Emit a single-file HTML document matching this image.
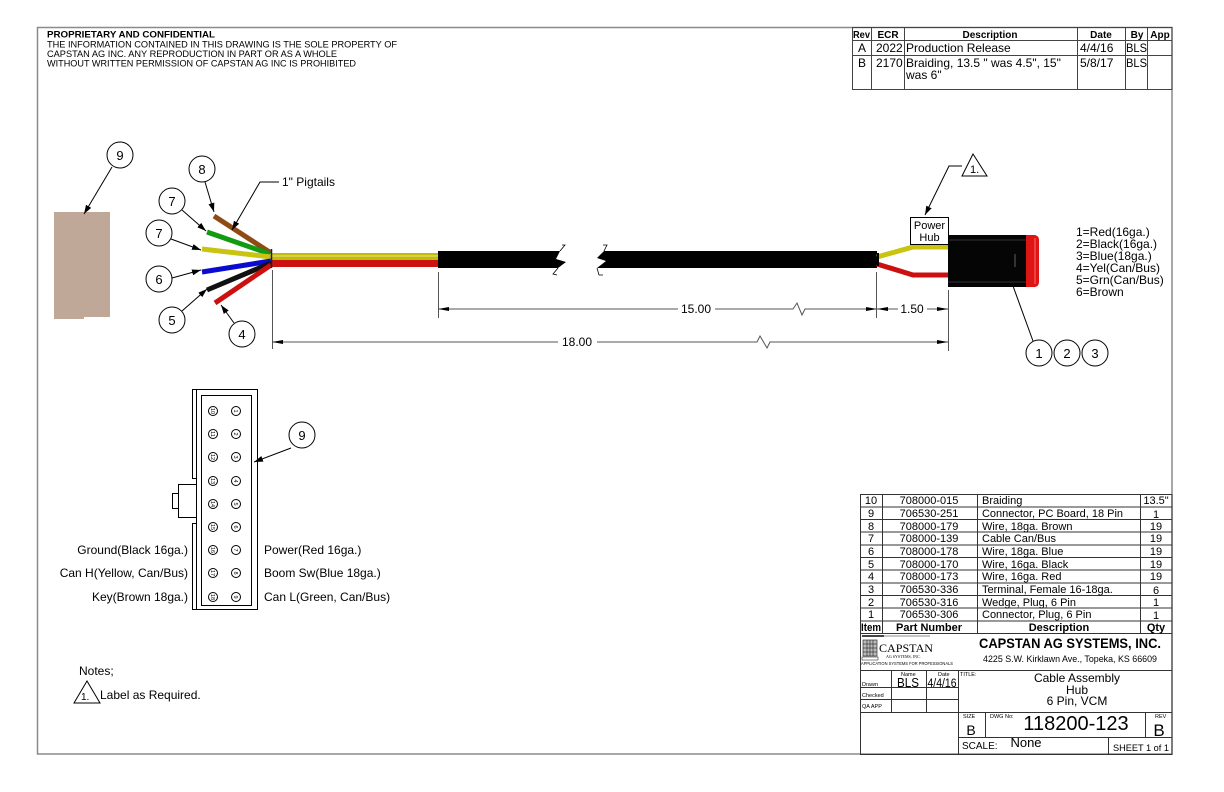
<!DOCTYPE html>
<html><head><meta charset="utf-8"><style>
html,body{margin:0;padding:0;background:#fff;}
svg{display:block;}
text{font-family:"Liberation Sans",Arial,sans-serif;fill:#000;}
</style></head><body>
<svg width="1224" height="792" viewBox="0 0 1224 792" xmlns="http://www.w3.org/2000/svg">
<defs>
<marker id="a" markerUnits="userSpaceOnUse" markerWidth="9" markerHeight="6" refX="9" refY="3" orient="auto"><path d="M0,0 L9,3 L0,6 z" fill="#000"/></marker>
</defs>
<rect width="1224" height="792" fill="#fff"/>
<!-- frame -->
<rect x="37.5" y="27.5" width="1134.5" height="726.5" fill="none" stroke="#8a8a8a" stroke-width="1.5"/>

<!-- header -->
<text x="47" y="37.5" font-size="9.5" font-weight="bold" textLength="168" lengthAdjust="spacingAndGlyphs">PROPRIETARY AND CONFIDENTIAL</text>
<text x="47" y="47.5" font-size="9.5" textLength="350" lengthAdjust="spacingAndGlyphs">THE INFORMATION CONTAINED IN THIS DRAWING IS THE SOLE PROPERTY OF</text>
<text x="47" y="57" font-size="9.5" textLength="290" lengthAdjust="spacingAndGlyphs">CAPSTAN AG INC. ANY REPRODUCTION IN PART OR AS A WHOLE</text>
<text x="47" y="66.5" font-size="9.5" textLength="309" lengthAdjust="spacingAndGlyphs">WITHOUT WRITTEN PERMISSION OF CAPSTAN AG INC IS PROHIBITED</text>

<!-- revision table -->
<g stroke="#444" stroke-width="1" fill="none">
<rect x="852.5" y="27.5" width="319.5" height="62"/>
<line x1="852" y1="40.5" x2="1172" y2="40.5"/>
<line x1="852" y1="55.5" x2="1172" y2="55.5"/>
<line x1="871.5" y1="27" x2="871.5" y2="89"/>
<line x1="904.5" y1="27" x2="904.5" y2="89"/>
<line x1="1077.5" y1="27" x2="1077.5" y2="89"/>
<line x1="1125.5" y1="27" x2="1125.5" y2="89"/>
<line x1="1147.5" y1="27" x2="1147.5" y2="89"/>
</g>
<g font-size="10" font-weight="bold">
<text x="853" y="38" textLength="17" lengthAdjust="spacingAndGlyphs">Rev</text>
<text x="888" y="38" text-anchor="middle">ECR</text>
<text x="990" y="38" text-anchor="middle">Description</text>
<text x="1101" y="38" text-anchor="middle">Date</text>
<text x="1137" y="38" text-anchor="middle">By</text>
<text x="1160" y="38" text-anchor="middle">App</text>
</g>
<g font-size="12">
<text x="862" y="52" text-anchor="middle">A</text>
<text x="876" y="52">2022</text>
<text x="906" y="52">Production Release</text>
<text x="1080" y="52">4/4/16</text>
<text x="1126" y="52" textLength="21" lengthAdjust="spacingAndGlyphs">BLS</text>
<text x="862" y="67" text-anchor="middle">B</text>
<text x="876" y="67">2170</text>
<text x="906" y="67">Braiding, 13.5 " was 4.5", 15"</text>
<text x="906" y="79">was 6"</text>
<text x="1080" y="67">5/8/17</text>
<text x="1126" y="67" textLength="21" lengthAdjust="spacingAndGlyphs">BLS</text>
</g>

<!-- Part 9 tan connector -->
<rect x="54" y="212" width="56" height="105" fill="#bfa897"/>
<rect x="54" y="312" width="30" height="7" fill="#bfa897"/>
<circle cx="120" cy="155" r="13" fill="#fff" stroke="#000"/>
<text x="120" y="160" font-size="13" text-anchor="middle">9</text>
<line x1="112" y1="167" x2="84" y2="214" stroke="#000" marker-end="url(#a)"/>

<!-- pigtail wires -->
<g stroke-width="5" stroke-linecap="butt">
<line x1="214" y1="216" x2="271" y2="253" stroke="#8e4b14"/>
<line x1="207" y1="232" x2="270" y2="254" stroke="#129a12"/>
<line x1="202" y1="249" x2="271" y2="257" stroke="#c8c410"/>
<line x1="202" y1="272" x2="271" y2="261" stroke="#0a0ad0"/>
<line x1="207" y1="290" x2="271" y2="263" stroke="#111"/>
<line x1="215" y1="303" x2="271" y2="265" stroke="#cc1010"/>
</g>
<!-- main braid -->
<rect x="271" y="253" width="167" height="7" fill="#c2bb08"/>
<rect x="271" y="255" width="167" height="2" fill="#d6d24a"/>
<rect x="271" y="260" width="167" height="7" fill="#cc1111"/>
<line x1="271.5" y1="249" x2="271.5" y2="268" stroke="#222" stroke-width="1.5"/>

<!-- jacket -->
<path d="M438,251 L560,251 L556,259 L566,262 L558,268 L438,268 Z" fill="#000"/>
<path d="M604,251 L877,251 L877,268 L597,268 L606,261 L597,258 Z" fill="#000"/>
<g stroke="#000" stroke-width="0.8" fill="none">
<path d="M560,251 L565,245 L562,245"/>
<path d="M558,268 L553,274 L557,275"/>
<path d="M604,251 L607,245 L603,245"/>
<path d="M597,268 L599,275 L603,275"/>
</g>

<!-- right wires -->
<polyline points="877,257 913,247 948,247" fill="none" stroke="#c8c410" stroke-width="5"/>
<polyline points="877,264 913,275 948,275" fill="none" stroke="#cc1010" stroke-width="5"/>
<rect x="877" y="253" width="2" height="13" fill="#000"/>

<!-- connector -->
<rect x="948" y="235" width="79" height="52" fill="#050505"/>
<line x1="948" y1="240" x2="1027" y2="240" stroke="#333" stroke-width="1"/>
<line x1="948" y1="282" x2="1027" y2="282" stroke="#333" stroke-width="1"/>
<rect x="1014" y="254" width="2" height="13" fill="#333"/>
<path d="M1026,235 L1035,235 Q1039,236 1039,240 L1039,282 Q1039,286 1035,287 L1026,287 Z" fill="#dd1515"/>
<rect x="1034" y="238" width="2" height="46" fill="#f04040"/>

<!-- Power Hub label -->
<rect x="910.5" y="217.5" width="38" height="27" fill="#fff" stroke="#000"/>
<text x="929.5" y="229" font-size="11" text-anchor="middle">Power</text>
<text x="929.5" y="241" font-size="11" text-anchor="middle">Hub</text>
<polygon points="973,154 962,176 987,176" fill="#fff" stroke="#000"/>
<text x="970" y="173" font-size="11">1.</text>
<polyline points="962,166 949,166 925,215" fill="none" stroke="#000" marker-end="url(#a)"/>

<!-- wire list -->
<g font-size="12">
<text x="1076" y="236">1=Red(16ga.)</text>
<text x="1076" y="248">2=Black(16ga.)</text>
<text x="1076" y="260">3=Blue(18ga.)</text>
<text x="1076" y="272">4=Yel(Can/Bus)</text>
<text x="1076" y="284">5=Grn(Can/Bus)</text>
<text x="1076" y="296">6=Brown</text>
</g>

<!-- balloons 1 2 3 -->
<line x1="1033" y1="341" x2="1013" y2="286" stroke="#000"/>
<g fill="#fff" stroke="#000">
<circle cx="1039" cy="353" r="13"/>
<circle cx="1067" cy="353" r="13"/>
<circle cx="1095" cy="353" r="13"/>
</g>
<g font-size="13" text-anchor="middle">
<text x="1039" y="358">1</text>
<text x="1067" y="358">2</text>
<text x="1095" y="358">3</text>
</g>

<!-- pigtail balloons -->
<g fill="#fff" stroke="#000">
<circle cx="202" cy="169" r="13"/>
<circle cx="172" cy="201" r="13"/>
<circle cx="159" cy="233" r="13"/>
<circle cx="159" cy="279" r="13"/>
<circle cx="172" cy="320" r="13"/>
<circle cx="242" cy="334" r="13"/>
</g>
<g font-size="13" text-anchor="middle">
<text x="202" y="174">8</text>
<text x="172" y="206">7</text>
<text x="159" y="238">7</text>
<text x="159" y="284">6</text>
<text x="172" y="325">5</text>
<text x="242" y="339">4</text>
</g>
<g stroke="#000" fill="none">
<line x1="205" y1="182" x2="214" y2="212" marker-end="url(#a)"/>
<line x1="182" y1="210" x2="206" y2="231" marker-end="url(#a)"/>
<line x1="171" y1="239" x2="201" y2="250" marker-end="url(#a)"/>
<line x1="172" y1="278" x2="201" y2="270" marker-end="url(#a)"/>
<line x1="182" y1="311" x2="207" y2="289" marker-end="url(#a)"/>
<line x1="234" y1="323" x2="221" y2="305" marker-end="url(#a)"/>
<polyline points="279,182 260,182 232,230" marker-end="url(#a)"/>
</g>
<text x="282" y="186" font-size="12">1" Pigtails</text>

<!-- dimensions -->
<g stroke="#555" stroke-width="1" fill="none">
<line x1="438.5" y1="272" x2="438.5" y2="318"/>
<line x1="876.5" y1="272" x2="876.5" y2="318"/>
<line x1="272.5" y1="270" x2="272.5" y2="349"/>
<line x1="948.5" y1="290" x2="948.5" y2="351"/>
<polyline points="438,309 678,309"/>
<polyline points="715,309 793,309 797,303 802,315 805,309 877,309"/>
<polyline points="877,309 898,309"/>
<polyline points="927,309 948,309"/>
<line x1="861" y1="309" x2="877" y2="309"/>
<polyline points="272,342 558,342"/>
<polyline points="597,342 757,342 760,336 767,348 770,342 948,342"/>
</g>
<g fill="#000">
<path d="M438,309 L449,307 L449,311 Z"/>
<path d="M877,309 L866,307 L866,311 Z"/>
<path d="M877,309 L888,307 L888,311 Z"/>
<path d="M948,309 L937,307 L937,311 Z"/>
<path d="M272,342 L283,340 L283,344 Z"/>
<path d="M948,342 L937,340 L937,344 Z"/>
</g>
<g font-size="12" text-anchor="middle">
<text x="696" y="313">15.00</text>
<text x="912" y="313">1.50</text>
<text x="577" y="346">18.00</text>
</g>

<!-- 18 pin connector -->
<g stroke="#000" stroke-width="1" fill="none">
<line x1="192.5" y1="389" x2="192.5" y2="478"/>
<line x1="192.5" y1="523" x2="192.5" y2="610"/>
<line x1="192" y1="478.5" x2="196" y2="478.5"/>
<line x1="192" y1="523.5" x2="196" y2="523.5"/>
<line x1="192" y1="389.5" x2="258" y2="389.5"/>
<line x1="192" y1="609.5" x2="258" y2="609.5"/>
<line x1="257.5" y1="389" x2="257.5" y2="610"/>
<line x1="196.5" y1="389" x2="196.5" y2="610"/>
<rect x="201.5" y="395.5" width="50" height="210"/>
<rect x="178.5" y="484.5" width="18" height="33"/>
<rect x="172.5" y="493.5" width="6" height="15"/>
</g>
<g stroke="#000" stroke-width="1" fill="#fff">
<circle cx="213" cy="411" r="4.5"/><circle cx="236" cy="411" r="4.5"/>
<circle cx="213" cy="434" r="4.5"/><circle cx="236" cy="434" r="4.5"/>
<circle cx="213" cy="457" r="4.5"/><circle cx="236" cy="457" r="4.5"/>
<circle cx="213" cy="481" r="4.5"/><circle cx="236" cy="481" r="4.5"/>
<circle cx="213" cy="504" r="4.5"/><circle cx="236" cy="504" r="4.5"/>
<circle cx="213" cy="527" r="4.5"/><circle cx="236" cy="527" r="4.5"/>
<circle cx="213" cy="550" r="4.5"/><circle cx="236" cy="550" r="4.5"/>
<circle cx="213" cy="573" r="4.5"/><circle cx="236" cy="573" r="4.5"/>
<circle cx="213" cy="597" r="4.5"/><circle cx="236" cy="597" r="4.5"/>
</g>
<g font-size="5.5" text-anchor="middle">
<text transform="translate(211,411) rotate(90)">10</text><text transform="translate(234,411) rotate(90)">1</text>
<text transform="translate(211,434) rotate(90)">11</text><text transform="translate(234,434) rotate(90)">2</text>
<text transform="translate(211,457) rotate(90)">12</text><text transform="translate(234,457) rotate(90)">3</text>
<text transform="translate(211,481) rotate(90)">13</text><text transform="translate(234,481) rotate(90)">4</text>
<text transform="translate(211,504) rotate(90)">14</text><text transform="translate(234,504) rotate(90)">5</text>
<text transform="translate(211,527) rotate(90)">15</text><text transform="translate(234,527) rotate(90)">6</text>
<text transform="translate(211,550) rotate(90)">16</text><text transform="translate(234,550) rotate(90)">7</text>
<text transform="translate(211,573) rotate(90)">17</text><text transform="translate(234,573) rotate(90)">8</text>
<text transform="translate(211,597) rotate(90)">18</text><text transform="translate(234,597) rotate(90)">9</text>
</g>
<circle cx="302" cy="435" r="13" fill="#fff" stroke="#000"/>
<text x="302" y="440" font-size="13" text-anchor="middle">9</text>
<line x1="291" y1="448" x2="254" y2="462" stroke="#000" marker-end="url(#a)"/>
<g font-size="12">
<text x="188" y="554" text-anchor="end">Ground(Black 16ga.)</text>
<text x="188" y="577" text-anchor="end">Can H(Yellow, Can/Bus)</text>
<text x="188" y="601" text-anchor="end">Key(Brown 18ga.)</text>
<text x="264" y="554">Power(Red 16ga.)</text>
<text x="264" y="577">Boom Sw(Blue 18ga.)</text>
<text x="264" y="601">Can L(Green, Can/Bus)</text>
</g>

<!-- Notes -->
<text x="79" y="675" font-size="12">Notes;</text>
<polygon points="87,681 74,703 100,703" fill="#fff" stroke="#000"/>
<text x="81" y="700" font-size="10">1.</text>
<text x="100" y="699" font-size="12">Label as Required.</text>

<!-- BOM -->
<g stroke="#333" stroke-width="1" fill="none">
<rect x="860.5" y="494.5" width="311.5" height="260"/>
<line x1="860" y1="507" x2="1172" y2="507"/>
<line x1="860" y1="519.5" x2="1172" y2="519.5"/>
<line x1="860" y1="532" x2="1172" y2="532"/>
<line x1="860" y1="545" x2="1172" y2="545"/>
<line x1="860" y1="557.5" x2="1172" y2="557.5"/>
<line x1="860" y1="570" x2="1172" y2="570"/>
<line x1="860" y1="583" x2="1172" y2="583"/>
<line x1="860" y1="595.5" x2="1172" y2="595.5"/>
<line x1="860" y1="608" x2="1172" y2="608"/>
<line x1="860" y1="621" x2="1172" y2="621"/>
<line x1="860" y1="633.5" x2="1172" y2="633.5"/>
<line x1="882.5" y1="494" x2="882.5" y2="634"/>
<line x1="977.5" y1="494" x2="977.5" y2="634"/>
<line x1="1140.5" y1="494" x2="1140.5" y2="634"/>
<!-- title block -->
<line x1="860" y1="670.5" x2="1172" y2="670.5"/>
<line x1="958.5" y1="670" x2="958.5" y2="754"/>
<line x1="860" y1="687.5" x2="958" y2="687.5"/>
<line x1="860" y1="699.5" x2="958" y2="699.5"/>
<line x1="860" y1="712.5" x2="1172" y2="712.5"/>
<line x1="891.5" y1="670" x2="891.5" y2="712"/>
<line x1="926.5" y1="670" x2="926.5" y2="712"/>
<line x1="958" y1="737.5" x2="1172" y2="737.5"/>
<line x1="985.5" y1="712" x2="985.5" y2="737"/>
<line x1="1145.5" y1="712" x2="1145.5" y2="737"/>
<line x1="1108.5" y1="737" x2="1108.5" y2="754"/>
</g>
<g font-size="11">
<g text-anchor="middle">
<text x="871" y="504">10</text><text x="929" y="504">708000-015</text>
<text x="871" y="517">9</text><text x="929" y="517">706530-251</text>
<text x="871" y="530">8</text><text x="929" y="530">708000-179</text>
<text x="871" y="542">7</text><text x="929" y="542">708000-139</text>
<text x="871" y="555">6</text><text x="929" y="555">708000-178</text>
<text x="871" y="568">5</text><text x="929" y="568">708000-170</text>
<text x="871" y="580">4</text><text x="929" y="580">708000-173</text>
<text x="871" y="593">3</text><text x="929" y="593">706530-336</text>
<text x="871" y="606">2</text><text x="929" y="606">706530-316</text>
<text x="871" y="618">1</text><text x="929" y="618">706530-306</text>
<text x="1156" y="504">13.5"</text>
<text x="1156" y="518">1</text>
<text x="1156" y="530">19</text>
<text x="1156" y="542">19</text>
<text x="1156" y="555">19</text>
<text x="1156" y="568">19</text>
<text x="1156" y="580">19</text>
<text x="1156" y="594">6</text>
<text x="1156" y="606">1</text>
<text x="1156" y="619">1</text>
</g>
<text x="982" y="504">Braiding</text>
<text x="982" y="517" textLength="141" lengthAdjust="spacingAndGlyphs">Connector, PC Board, 18 Pin</text>
<text x="982" y="530">Wire, 18ga. Brown</text>
<text x="982" y="542">Cable Can/Bus</text>
<text x="982" y="555">Wire, 18ga. Blue</text>
<text x="982" y="568">Wire, 16ga. Black</text>
<text x="982" y="580">Wire, 16ga. Red</text>
<text x="982" y="593">Terminal, Female 16-18ga.</text>
<text x="982" y="606">Wedge, Plug, 6 Pin</text>
<text x="982" y="618">Connector, Plug, 6 Pin</text>
</g>
<g font-size="11" font-weight="bold" text-anchor="middle">
<text x="871" y="631" textLength="20" lengthAdjust="spacingAndGlyphs">Item</text>
<text x="929" y="631">Part Number</text>
<text x="1059" y="631">Description</text>
<text x="1156" y="631">Qty</text>
</g>

<!-- logo -->
<rect x="862" y="635" width="22" height="2" fill="#444"/>
<line x1="884" y1="636" x2="930" y2="636" stroke="#666" stroke-width="0.8"/>
<g stroke="#333" stroke-width="0.7" fill="#bbb">
<rect x="863" y="640" width="14" height="16"/>
</g>
<g stroke="#222" stroke-width="0.6">
<line x1="863" y1="644" x2="877" y2="644"/><line x1="863" y1="648" x2="877" y2="648"/><line x1="863" y1="652" x2="877" y2="652"/>
<line x1="867" y1="640" x2="867" y2="656"/><line x1="870" y1="640" x2="870" y2="656"/><line x1="873" y1="640" x2="873" y2="656"/>
</g>
<rect x="862" y="657" width="16" height="3" fill="none" stroke="#333" stroke-width="0.6"/>
<text x="879" y="652" font-size="11.5" textLength="54" lengthAdjust="spacingAndGlyphs" style="font-family:'Liberation Serif',serif">CAPSTAN</text>
<text x="886" y="658" font-size="4" style="font-family:'Liberation Serif',serif">AG SYSTEMS, INC.</text>
<text x="861" y="665" font-size="4.3" textLength="92" lengthAdjust="spacingAndGlyphs">APPLICATION SYSTEMS FOR PROFESSIONALS</text>

<text x="1070" y="648" font-size="14" font-weight="bold" text-anchor="middle" textLength="182" lengthAdjust="spacingAndGlyphs">CAPSTAN AG SYSTEMS, INC.</text>
<text x="1070" y="662" font-size="9.5" text-anchor="middle" textLength="174" lengthAdjust="spacingAndGlyphs">4225 S.W. Kirklawn Ave., Topeka, KS 66609</text>

<g font-size="5.5">
<text x="901" y="676">Name</text>
<text x="938" y="676">Date</text>
<text x="862" y="686">Drawn</text>
<text x="862" y="697">Checked</text>
<text x="862" y="708">QA APP</text>
<text x="960" y="676">TITLE:</text>
<text x="963" y="718">SIZE</text>
<text x="990" y="718">DWG No:</text>
<text x="1155" y="718">REV</text>
</g>
<text x="908" y="687" font-size="12.5" text-anchor="middle" textLength="22" lengthAdjust="spacingAndGlyphs">BLS</text>
<text x="942" y="687" font-size="11.5" text-anchor="middle" textLength="29" lengthAdjust="spacingAndGlyphs">4/4/16</text>
<g font-size="12" text-anchor="middle">
<text x="1077" y="682">Cable Assembly</text>
<text x="1077" y="694">Hub</text>
<text x="1077" y="705">6 Pin, VCM</text>
</g>
<text x="971" y="735" font-size="14" text-anchor="middle">B</text>
<text x="1076" y="730" font-size="20" text-anchor="middle">118200-123</text>
<text x="1159" y="736" font-size="17" text-anchor="middle">B</text>
<text x="962" y="749" font-size="10">SCALE:</text>
<text x="1026" y="747" font-size="13" text-anchor="middle">None</text>
<text x="1113" y="751" font-size="9.5" textLength="56" lengthAdjust="spacingAndGlyphs">SHEET 1 of 1</text>
</svg>
</body></html>
